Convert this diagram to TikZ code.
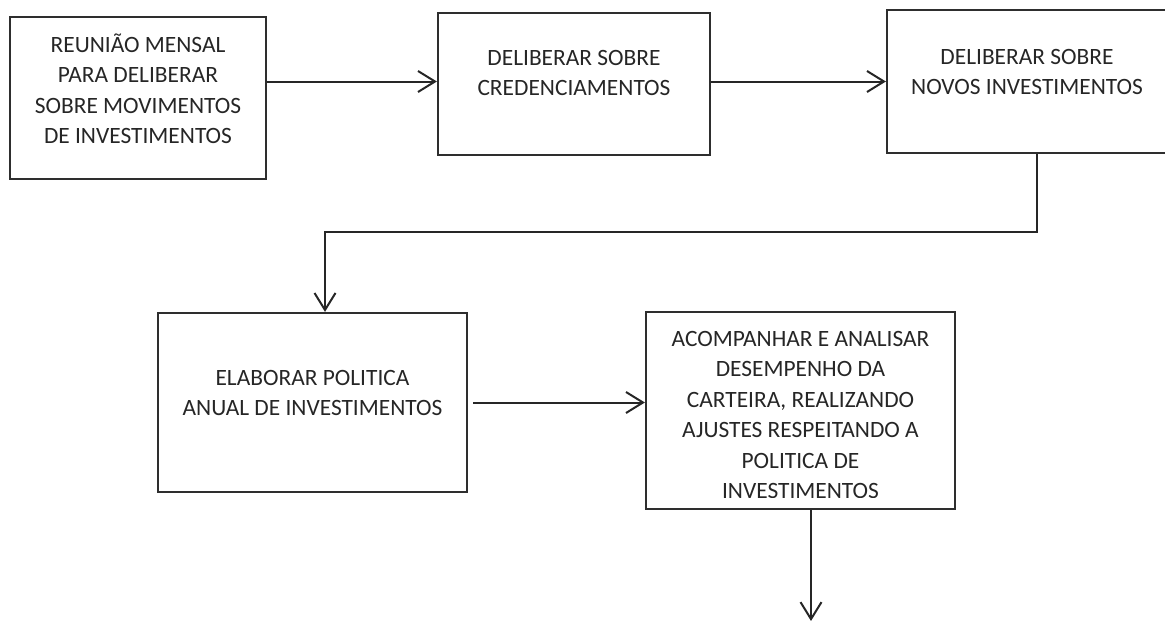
\documentclass[tikz,border=0pt]{standalone}
\usepackage{fontspec}
\setmainfont{Carlito}
\usetikzlibrary{arrows.meta}

\begin{document}
\begin{tikzpicture}[x=1pt, y=-1pt,
    caixa/.style={draw=black!82, line width=2.2pt, rectangle, inner sep=0pt},
    rotulo/.style={align=center, text=black!85, font=\fontsize{23.4}{30.5}\selectfont},
    seta/.style={-{Straight Barb[length=17pt, width=21pt, line width=2pt]}, line width=2pt, draw=black!85},
    fio/.style={line width=1.4pt}]
        \useasboundingbox (0,0) rectangle (1165,621);

        \node[caixa, minimum width=256pt, minimum height=162pt,
          label={[rotulo, yshift=9pt]center:{REUNIÃO MENSAL\\PARA DELIBERAR\\SOBRE MOVIMENTOS\\DE INVESTIMENTOS}}] (n1) at (138,98) {};
        \node[caixa, minimum width=272pt, minimum height=142pt,
          label={[rotulo, yshift=11pt]center:{DELIBERAR SOBRE\\CREDENCIAMENTOS}}] (n2) at (574,84) {};
        \node[caixa, minimum width=280pt, minimum height=143pt,
          label={[rotulo, yshift=9.5pt]center:{DELIBERAR SOBRE\\NOVOS INVESTIMENTOS}}] (n3) at (1027,81.5) {};
        \node[caixa, minimum width=309pt, minimum height=179pt,
          label={[rotulo, yshift=9.5pt]center:{ELABORAR POLITICA\\ANUAL DE INVESTIMENTOS}}] (n4) at (312.5,402.5) {};
        \node[caixa, minimum width=309pt, minimum height=197pt] (n5) at (800.5,410.5) {};

        % texto que passa da borda de baixo
        \begin{scope}
          \clip (n5.north west) rectangle ([yshift=12.5pt]n5.south east);
          \node[rotulo] (t5) at ([yshift=-4.5pt]n5.center) {ACOMPANHAR E ANALISAR\\DESEMPENHO DA\\CARTEIRA, REALIZANDO\\AJUSTES RESPEITANDO A\\POLITICA DE\\INVESTIMENTOS};
        \end{scope}

        \coordinate (dobra) at (1037,232);
        \coordinate (entrada) at (325,232);
        \coordinate (fim) at (811,621);

        \draw[seta] (n1.east |- n3.west) -- (n2.west |- n3.west);
        \draw[seta] (n2.east |- n3.west) -- (n3.west);
        \draw[seta, fio] (n3.south -| dobra) -- (dobra) -- (entrada) -- (entrada |- n4.north);
        \draw[seta, shorten <=5pt] (n4.east) -- (n4.east -| n5.west);
        \draw[seta, fio] (n5.south -| fim) -- (fim);
      \end{tikzpicture}
\end{document}
